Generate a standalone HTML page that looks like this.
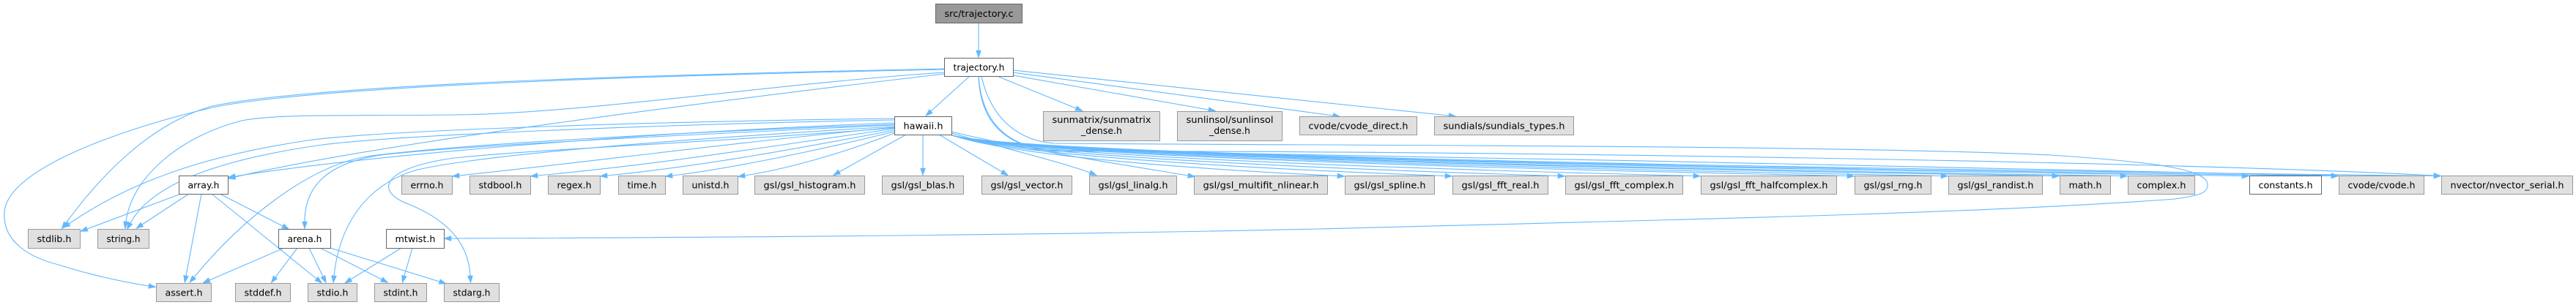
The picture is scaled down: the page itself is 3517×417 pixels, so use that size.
<!DOCTYPE html>
<html><head><meta charset="utf-8"><style>
html,body{margin:0;padding:0;background:#fff;}
svg{display:block;}
text{font-family:"DejaVu Sans","Liberation Sans",sans-serif;font-size:12.5px;fill:#000;text-anchor:middle;}
.e{fill:none;stroke:#63b8ff;stroke-width:1.1;marker-end:url(#ah);}
.g{fill:#e0e0e0;stroke:#999999;stroke-width:1;}
.w{fill:#ffffff;stroke:#666666;stroke-width:1;}
.r{fill:#999999;stroke:#666666;stroke-width:1;}
</style></head><body>
<svg width="3517" height="417" viewBox="0 0 3517 417" xmlns="http://www.w3.org/2000/svg">
<defs>
<marker id="ah" markerUnits="userSpaceOnUse" markerWidth="10" markerHeight="7" refX="0" refY="3.5" orient="auto" overflow="visible">
<path d="M0,0 L10,3.5 L0,7 z" fill="#63b8ff" stroke="#63b8ff" stroke-width="0.5"/>
</marker>
</defs>
<rect x="0" y="0" width="3517" height="417" fill="#fff"/>

<!-- edges -->
<path class="e" d="M1336,31 L1336,69"/>
<path class="e" d="M1324,104 L1271,152"/>
<path class="e" d="M1361,104 L1469,148"/>
<path class="e" d="M1383,103 L1650,150"/>
<path class="e" d="M1383,99 L1820,158"/>
<path class="e" d="M1383,96 L1978,158"/>
<path class="e" d="M1289,94 C1000,100 450,112 290,145 C200,170 130,250 90,305"/>
<path class="e" d="M1289,95 C1000,101 450,114 290,147 C170,175 10,230 6,290 C3,330 40,352 80,362 C120,375 170,386 203,391"/>
<path class="e" d="M1289,99 C1050,115 800,155 620,157 C480,159 380,155 330,165 C250,185 180,240 172,303"/>
<path class="e" d="M1289,101 C1000,135 520,195 321,242"/>
<path class="e" d="M1340,104 C1350,150 1380,192 1440,196 C1800,199 2500,198 2800,212 C2950,222 3012,232 3014,252 C3015,265 3000,267 2970,272 C2700,292 2300,300 1800,313 C1400,322 900,325 616,326"/>
<path class="e" d="M1336,104 C1338,165 1370,198 1430,205 C1900,215 2800,228 3183,240"/>
<path class="e" d="M1336,104 C1340,165 1372,200 1440,207 C2000,205 3000,222 3323,240"/>

<path class="e" d="M1221,174 C1000,195 800,222 627,240"/>
<path class="e" d="M1221,176 C1050,200 900,225 734,240"/>
<path class="e" d="M1221,178 C1090,203 960,227 829,240"/>
<path class="e" d="M1221,180 C1120,205 1000,230 918,240"/>
<path class="e" d="M1221,182 C1150,210 1070,232 1017,240"/>
<path class="e" d="M1221,168 C900,180 520,210 321,241"/>
<path class="e" d="M1221,162 C900,166 520,178 420,192 C300,210 190,240 94,306"/>
<path class="e" d="M1221,164 C900,170 540,185 440,198 C320,215 210,245 178,305"/>
<path class="e" d="M1221,170 C900,182 620,198 500,214 C420,228 330,300 265,379"/>
<path class="e" d="M1221,171 C900,186 620,200 520,212 C440,224 416,260 416,303"/>
<path class="e" d="M1221,173 C900,192 660,212 570,232 C490,255 462,320 456,377"/>
<path class="e" d="M1221,175 C950,196 720,205 620,216 C520,230 510,262 560,280 C620,305 640,340 642,377"/>

<path class="e" d="M1237,184 L1146,235"/>
<path class="e" d="M1260,184 L1260,230"/>
<path class="e" d="M1282,184 L1368,235"/>
<path class="e" d="M1299,182 C1380,205 1450,222 1488,236"/>
<path class="e" d="M1299,180 C1400,205 1550,228 1622,240"/>
<path class="e" d="M1297,184 C1380,214 1648,232 1826,240.5"/>
<path class="e" d="M1297,184 C1380,214 1744,232 1973,240.5"/>
<path class="e" d="M1297,184 C1380,214 1844,232 2127,240.5"/>
<path class="e" d="M1297,184 C1380,214 1964,232 2312,240.5"/>
<path class="e" d="M1297,184 C1380,214 2101,232 2522,240.5"/>
<path class="e" d="M1297,184 C1380,214 2184,232 2650,240.5"/>
<path class="e" d="M1297,184 C1380,214 2283,232 2802,240.5"/>
<path class="e" d="M1297,184 C1380,214 2343,232 2895,240.5"/>
<path class="e" d="M1297,184 C1380,214 2451,232 3061,240.5"/>
<path class="e" d="M1297,184 C1380,214 2530,232 3183,240.5"/>
<path class="e" d="M1297,184 C1380,214 2621,232 3323,240.5"/>

<path class="e" d="M247,265 L119,313"/>
<path class="e" d="M258,265 L194,307"/>
<path class="e" d="M275,265 L254,377"/>
<path class="e" d="M289,265 L432,381"/>
<path class="e" d="M300,265 L386,309"/>

<path class="e" d="M388,339 L286,383"/>
<path class="e" d="M406,339 L376,379"/>
<path class="e" d="M422,339 L441,378"/>
<path class="e" d="M437,339 L521,382"/>
<path class="e" d="M451,339 L600,385"/>

<path class="e" d="M548,339 L479,382"/>
<path class="e" d="M563,339 L552,377"/>

<!-- nodes -->
<rect class="r" x="1277.5" y="5.5" width="118" height="26"/>
<text x="1336.5" y="23" textLength="94" lengthAdjust="spacingAndGlyphs">src/trajectory.c</text>

<rect class="w" x="1289.5" y="79.5" width="94" height="25"/>
<text x="1336.5" y="96.5" textLength="70" lengthAdjust="spacingAndGlyphs">trajectory.h</text>

<rect class="w" x="1221.5" y="159.5" width="78" height="25"/>
<text x="1260.5" y="176.5" textLength="54" lengthAdjust="spacingAndGlyphs">hawaii.h</text>

<rect class="g" x="1424.5" y="152.5" width="159" height="40"/>
<text x="1504" y="168" textLength="135" lengthAdjust="spacingAndGlyphs">sunmatrix/sunmatrix</text>
<text x="1504" y="183">_dense.h</text>

<rect class="g" x="1607.5" y="152.5" width="143" height="40"/>
<text x="1679" y="168" textLength="119" lengthAdjust="spacingAndGlyphs">sunlinsol/sunlinsol</text>
<text x="1679" y="183">_dense.h</text>

<rect class="g" x="1774.5" y="159.5" width="160" height="25"/>
<text x="1854.5" y="176.5" textLength="136" lengthAdjust="spacingAndGlyphs">cvode/cvode_direct.h</text>

<rect class="g" x="1958.5" y="159.5" width="190" height="25"/>
<text x="2053.5" y="176.5" textLength="166" lengthAdjust="spacingAndGlyphs">sundials/sundials_types.h</text>

<!-- row 4 -->
<rect class="w" x="244.5" y="240.5" width="67" height="25"/>
<text x="278" y="257.5" textLength="43" lengthAdjust="spacingAndGlyphs">array.h</text>

<rect class="g" x="548.5" y="240.5" width="69" height="25"/>
<text x="583" y="257.5" textLength="45" lengthAdjust="spacingAndGlyphs">errno.h</text>

<rect class="g" x="641.5" y="240.5" width="83" height="25"/>
<text x="683" y="257.5" textLength="59" lengthAdjust="spacingAndGlyphs">stdbool.h</text>

<rect class="g" x="748.5" y="240.5" width="71" height="25"/>
<text x="784" y="257.5" textLength="47" lengthAdjust="spacingAndGlyphs">regex.h</text>

<rect class="g" x="844.5" y="240.5" width="64" height="25"/>
<text x="876.5" y="257.5" textLength="40" lengthAdjust="spacingAndGlyphs">time.h</text>

<rect class="g" x="932.5" y="240.5" width="75" height="25"/>
<text x="970" y="257.5" textLength="51" lengthAdjust="spacingAndGlyphs">unistd.h</text>

<rect class="g" x="1030.5" y="240.5" width="150" height="25"/>
<text x="1105.5" y="257.5" textLength="126" lengthAdjust="spacingAndGlyphs">gsl/gsl_histogram.h</text>

<rect class="g" x="1204.5" y="240.5" width="111" height="25"/>
<text x="1260" y="257.5" textLength="87" lengthAdjust="spacingAndGlyphs">gsl/gsl_blas.h</text>

<rect class="g" x="1340.5" y="240.5" width="123" height="25"/>
<text x="1402" y="257.5" textLength="99" lengthAdjust="spacingAndGlyphs">gsl/gsl_vector.h</text>

<rect class="g" x="1487.5" y="240.5" width="119" height="25"/>
<text x="1547" y="257.5" textLength="95" lengthAdjust="spacingAndGlyphs">gsl/gsl_linalg.h</text>

<rect class="g" x="1630.5" y="240.5" width="182" height="25"/>
<text x="1721.5" y="257.5" textLength="158" lengthAdjust="spacingAndGlyphs">gsl/gsl_multifit_nlinear.h</text>

<rect class="g" x="1836.5" y="240.5" width="122" height="25"/>
<text x="1897.5" y="257.5" textLength="98" lengthAdjust="spacingAndGlyphs">gsl/gsl_spline.h</text>

<rect class="g" x="1983.5" y="240.5" width="130" height="25"/>
<text x="2048.5" y="257.5" textLength="106" lengthAdjust="spacingAndGlyphs">gsl/gsl_fft_real.h</text>

<rect class="g" x="2137.5" y="240.5" width="160" height="25"/>
<text x="2217.5" y="257.5" textLength="136" lengthAdjust="spacingAndGlyphs">gsl/gsl_fft_complex.h</text>

<rect class="g" x="2322.5" y="240.5" width="185" height="25"/>
<text x="2415" y="257.5" textLength="161" lengthAdjust="spacingAndGlyphs">gsl/gsl_fft_halfcomplex.h</text>

<rect class="g" x="2532.5" y="240.5" width="104" height="25"/>
<text x="2584.5" y="257.5" textLength="80" lengthAdjust="spacingAndGlyphs">gsl/gsl_rng.h</text>

<rect class="g" x="2660.5" y="240.5" width="128" height="25"/>
<text x="2724.5" y="257.5" textLength="104" lengthAdjust="spacingAndGlyphs">gsl/gsl_randist.h</text>

<rect class="g" x="2812.5" y="240.5" width="69" height="25"/>
<text x="2847" y="257.5" textLength="45" lengthAdjust="spacingAndGlyphs">math.h</text>

<rect class="g" x="2905.5" y="240.5" width="91" height="25"/>
<text x="2951" y="257.5" textLength="67" lengthAdjust="spacingAndGlyphs">complex.h</text>

<rect class="w" x="3071.5" y="240.5" width="98" height="25"/>
<text x="3120.5" y="257.5" textLength="74" lengthAdjust="spacingAndGlyphs">constants.h</text>

<rect class="g" x="3193.5" y="240.5" width="116" height="25"/>
<text x="3251.5" y="257.5" textLength="92" lengthAdjust="spacingAndGlyphs">cvode/cvode.h</text>

<rect class="g" x="3333.5" y="240.5" width="179" height="25"/>
<text x="3423" y="257.5" textLength="155" lengthAdjust="spacingAndGlyphs">nvector/nvector_serial.h</text>

<!-- row 5 -->
<rect class="g" x="38.5" y="313.5" width="71" height="26"/>
<text x="74" y="331" textLength="47" lengthAdjust="spacingAndGlyphs">stdlib.h</text>

<rect class="g" x="133.5" y="313.5" width="70" height="26"/>
<text x="168.5" y="331" textLength="46" lengthAdjust="spacingAndGlyphs">string.h</text>

<rect class="w" x="380.5" y="313.5" width="71" height="26"/>
<text x="416" y="331" textLength="47" lengthAdjust="spacingAndGlyphs">arena.h</text>

<rect class="w" x="527.5" y="313.5" width="79" height="26"/>
<text x="567" y="331" textLength="55" lengthAdjust="spacingAndGlyphs">mtwist.h</text>

<!-- row 6 -->
<rect class="g" x="213.5" y="387.5" width="75" height="25"/>
<text x="251" y="404.5" textLength="51" lengthAdjust="spacingAndGlyphs">assert.h</text>

<rect class="g" x="321.5" y="387.5" width="75" height="25"/>
<text x="359" y="404.5" textLength="51" lengthAdjust="spacingAndGlyphs">stddef.h</text>

<rect class="g" x="420.5" y="387.5" width="67" height="25"/>
<text x="454" y="404.5" textLength="43" lengthAdjust="spacingAndGlyphs">stdio.h</text>

<rect class="g" x="511.5" y="387.5" width="71" height="25"/>
<text x="547" y="404.5" textLength="47" lengthAdjust="spacingAndGlyphs">stdint.h</text>

<rect class="g" x="606.5" y="387.5" width="75" height="25"/>
<text x="644" y="404.5" textLength="51" lengthAdjust="spacingAndGlyphs">stdarg.h</text>
</svg>
</body></html>
